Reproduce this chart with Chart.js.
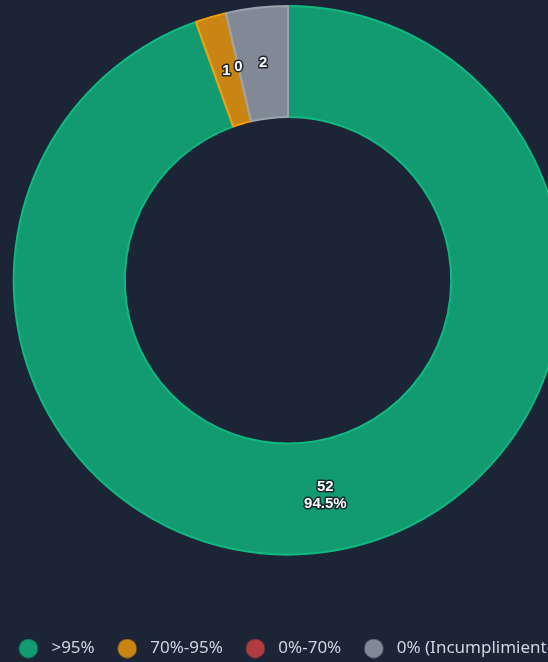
<!DOCTYPE html>
<html>
<head>
<meta charset="utf-8">
<script src="https://cdn.jsdelivr.net/npm/chart.js@4.4.0/dist/chart.umd.min.js"></script>
<style>
    html, body { margin: 0; padding: 0; background: #1c2536; overflow: hidden; }
    #wrap { position: relative; left: -12px; width: 600px; height: 667px; }
</style>
</head>
<body>
<div id="wrap"><canvas id="cumplimientoChart"></canvas></div>
<script>
const labels = ['>95%', '70%-95%', '0%-70%', '0% (Incumplimiento)'];
const counts = [52, 1, 0, 2];
const fillColors = ['rgba(16,185,129,0.8)', 'rgba(245,158,11,0.8)', 'rgba(239,68,68,0.7)', 'rgba(156,163,175,0.8)'];
const borderColors = ['#10b981', '#f59e0b', '#ef4444', '#9ca3af'];

// punto de la leyenda como imagen (circulo de 19px)
function makeDot(color) {
    const c = document.createElement('canvas');
    c.width = 20;
    c.height = 20;
    const g = c.getContext('2d');
    g.fillStyle = color;
    g.beginPath();
    g.arc(10, 10, 9.5, 0, Math.PI * 2);
    g.fill();
    return c;
}

// etiquetas sobre cada segmento (valor y, si es grande, porcentaje)
const sliceLabels = {
    id: 'sliceLabels',
    afterDatasetsDraw(chart) {
        const ctx = chart.ctx;
        const total = counts.reduce((a, b) => a + b, 0);
        const meta = chart.getDatasetMeta(0);
        ctx.save();
        ctx.font = 'bold 15px "Liberation Sans", Arial, sans-serif';
        ctx.textAlign = 'center';
        ctx.textBaseline = 'middle';
        ctx.lineWidth = 3;
        ctx.lineJoin = 'round';
        ctx.strokeStyle = 'rgba(20,28,40,0.9)';
        ctx.fillStyle = '#ffffff';
        meta.data.forEach((arc, i) => {
            const pos = arc.tooltipPosition();
            const pct = counts[i] / total * 100;
            const lines = pct > 10 ? [String(counts[i]), pct.toFixed(1) + '%'] : [String(counts[i])];
            lines.forEach((txt, j) => {
                const y = pos.y + (j - (lines.length - 1) / 2) * 17;
                ctx.strokeText(txt, pos.x, y);
                ctx.fillText(txt, pos.x, y);
            });
        });
        ctx.restore();
    }
};

const ctx = document.getElementById('cumplimientoChart').getContext('2d');
new Chart(ctx, {
    type: 'doughnut',
    data: {
        labels: labels,
        datasets: [{
            data: counts,
            backgroundColor: fillColors,
            borderColor: borderColors,
            borderWidth: 2
        }]
    },
    options: {
        responsive: true,
        maintainAspectRatio: false,
        animation: false,
        cutout: '59.5%',
        layout: { padding: { top: 5 } },
        plugins: {
            legend: {
                position: 'bottom',
                title: { display: true, text: '', padding: { top: 52, bottom: 0 } },
                labels: {
                    color: '#cbd5e1',
                    usePointStyle: true,
                    pointStyleWidth: 29,
                    boxHeight: 13,
                    padding: 18,
                    font: { family: '"Noto Sans", "Open Sans", sans-serif', size: 17 },
                    generateLabels(chart) {
                        const items = Chart.overrides.doughnut.plugins.legend.labels.generateLabels(chart);
                        return items.map((it, i) => Object.assign(it, { pointStyle: makeDot(fillColors[i]) }));
                    }
                }
            },
            tooltip: { enabled: false }
        }
    },
    plugins: [sliceLabels]
});
</script>
</body>
</html>
